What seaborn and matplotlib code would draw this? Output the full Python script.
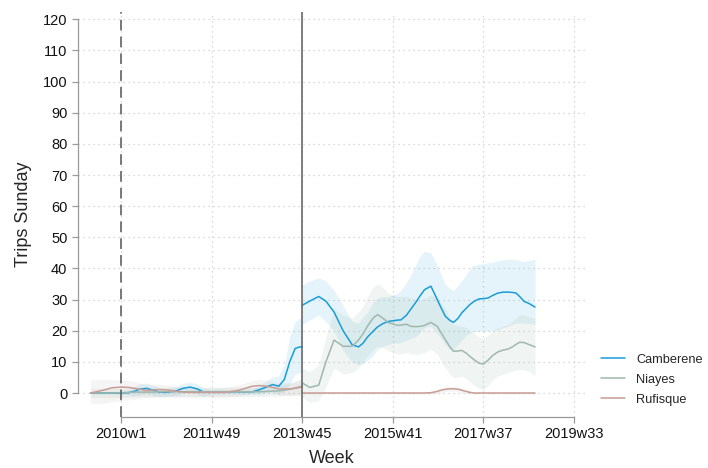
import matplotlib
matplotlib.use("Agg")
import matplotlib.pyplot as plt
import pandas as pd
import seaborn as sns
from matplotlib.ticker import FuncFormatter

# weeks are Stata weekly dates (weeks since 1960w1)
pre_weeks = [2566, 2580, 2590, 2600, 2608, 2615, 2620, 2628, 2636, 2642, 2650, 2660, 2668, 2676,
             2684, 2690, 2700, 2715, 2730, 2745, 2752, 2760, 2767, 2774, 2780, 2786, 2792, 2797, 2800]
post_weeks = [2800, 2808, 2818, 2826, 2835, 2845, 2855, 2862, 2867, 2872, 2878, 2883, 2889, 2895,
              2900, 2905, 2909, 2915, 2920, 2925, 2930, 2935, 2942, 2949, 2953, 2958, 2963, 2967,
              2972, 2976, 2981, 2985, 2990, 2995, 3000, 3005, 3010, 3016, 3022, 3027, 3032, 3036,
              3040, 3045, 3050, 3057]

# Camberene
cam_pre = [0, 0, 0, 0, 0.1, 0.6, 1.2, 1.5, 0.8, 0.3, 0.2, 0.6, 1.5, 1.9, 1.3, 0.4, 0.4, 0.4, 0.4,
           0.4, 1.0, 1.9, 2.7, 2.2, 4.3, 10.0, 14.3, 14.8, 14.8]
cam_pre_lo = [-0.3, -0.3, -0.3, -0.4, -0.6, -0.9, -0.6, -0.2, -0.8, -1.2, -1.0, -0.8, -0.1, 0.2,
              -0.3, -1.0, -0.5, -0.3, -0.3, -0.5, -0.5, 0.0, 0.3, -0.3, 0.5, 3.0, 6.0, 6.5, 6.5]
cam_pre_hi = [0.3, 0.3, 0.3, 0.5, 1.0, 2.2, 3.0, 3.2, 2.4, 1.6, 1.4, 2.0, 3.0, 3.6, 2.9, 1.6, 1.2,
              1.2, 1.2, 1.4, 2.5, 3.8, 5.2, 5.5, 9.0, 18.0, 23.0, 24.0, 24.5]
cam_post = [28.2, 29.5, 31, 29.5, 26, 20, 15.5, 14.8, 16, 18, 19.8, 21.2, 22.3, 23, 23.2, 23.4, 23.5,
            25, 27, 29, 31.2, 33.2, 34.3, 30, 27.5, 24.6, 23.3, 22.7, 24.0, 25.7, 27.2, 28.4, 29.5,
            30.2, 30.3, 30.5, 31.3, 32.1, 32.4, 32.4, 32.3, 32.1, 31, 29.4, 28.8, 27.6]
cam_post_lo = [22, 23.5, 25, 23, 20, 13.5, 10, 9, 9.5, 10.5, 12, 14, 15, 15.5, 16, 16, 16.2, 17, 17.5,
               18, 19.5, 21, 21.4, 19, 17.7, 15.5, 14, 14, 15.5, 17, 18.5, 19.3, 19.6, 19.8, 19.8,
               19.8, 20, 20.3, 21, 21.5, 22, 22.5, 22.5, 22.5, 22.3, 22]
cam_post_hi = [34.8, 36, 37, 36, 33, 28, 23, 22.5, 24.5, 26, 29, 30.5, 31, 31, 31.5, 32, 33, 35.5, 38,
               41, 44, 45.5, 45, 41, 38, 35, 33.5, 33, 34.5, 36, 38, 40, 41, 41.5, 41.5, 41.8, 42,
               42.5, 42.8, 43, 43, 42.8, 42.5, 42.2, 42.5, 43]

# Niayes
nia_pre = [0, 0, 0, 0.1, 0.2, 0.3, 0.3, 0.3, 0.3, 0.4, 0.4, 0.4, 0.4, 0.4, 0.4, 0.4, 0.4, 0.4, 0.4,
           0.4, 0.4, 0.5, 0.6, 0.7, 0.9, 1.2, 1.6, 2.0, 2.2]
nia_pre_lo = [-1.5, -1.5, -1.5, -1.4, -1.3, -1.2, -1.2, -1.2, -1.2, -1.1, -1.1, -1.1, -1.1, -1.1,
              -1.1, -1.1, -1.1, -1.1, -1.1, -1.1, -1.1, -1.1, -1.0, -1.0, -0.9, -0.8, -0.6, -0.4, -0.3]
nia_pre_hi = [1.5, 1.5, 1.5, 1.6, 1.7, 1.8, 1.8, 1.8, 1.8, 1.9, 1.9, 1.9, 1.9, 1.9, 1.9, 1.9, 1.9,
              1.9, 1.9, 1.9, 1.9, 2.1, 2.3, 2.5, 2.8, 3.2, 3.8, 4.4, 4.7]
nia_post = [3.2, 1.8, 2.5, 10, 17, 15, 15, 17, 19, 21.5, 24, 25.2, 24, 22.6, 22.2, 21.7, 21.8, 22.1,
            21.4, 21.3, 21.4, 21.7, 22.7, 21.4, 19.5, 17.1, 14.8, 13.4, 13.5, 13.7, 12.8, 11.8, 10.6,
            9.6, 9.3, 10.5, 12, 13.2, 13.8, 14.1, 14.8, 15.6, 16.3, 16.2, 15.6, 14.8]
nia_post_lo = [-1.5, -3, -2.5, 2, 8, 6, 6.5, 8, 10, 12, 14, 15, 14.5, 13.5, 13, 12.5, 12.5, 13, 12.5,
               12.5, 12.5, 13, 14, 12.5, 10.5, 8, 6, 5, 5, 5.5, 4.5, 3.5, 2.5, 1.5, 1, 2.5, 4, 5.5,
               6, 6.5, 7, 7.5, 7.5, 7.5, 7, 5.5]
nia_post_hi = [8, 7, 9, 18, 27, 25, 24, 26, 28, 31, 34, 35, 34, 32, 31.5, 31, 31, 31, 30.5, 30, 30,
               30.5, 31.5, 30.5, 29, 27, 24, 22, 21.5, 21.5, 21, 20, 19, 18, 17.5, 18.5, 20, 21,
               21.5, 22, 23, 24, 25, 25, 24.5, 24]

# Rufisque
ruf_pre = [0, 0.9, 1.7, 1.9, 1.8, 1.5, 1.2, 0.8, 1.0, 1.1, 1.0, 0.6, 0.3, 0.2, 0.2, 0.2, 0.2, 0.2,
           0.9, 2.2, 2.4, 2.2, 1.8, 1.3, 1.3, 1.3, 1.5, 1.8, 1.9]
ruf_pre_lo = [-3.5, -3.3, -2.8, -2.4, -2.2, -2.0, -1.8, -1.6, -1.4, -1.3, -1.3, -1.4, -1.5, -1.5,
              -1.5, -1.5, -1.5, -1.5, -1.0, 0.0, 0.2, 0.1, -0.2, -0.6, -0.7, -0.8, -0.8, -0.8, -0.8]
ruf_pre_hi = [4.3, 4.3, 4.3, 4.2, 4.0, 3.6, 3.2, 2.8, 2.8, 2.8, 2.6, 2.2, 1.8, 1.6, 1.6, 1.6, 1.6,
              1.8, 2.6, 4.0, 4.4, 4.2, 3.8, 3.2, 3.2, 3.3, 3.6, 4.0, 4.3]
ruf_post = [0] * 22 + [0.1, 0.5, 0.9, 1.2, 1.35, 1.35, 1.2, 0.9, 0.5, 0.2] + [0] * 14
ruf_post_lo = [-0.3] * 22 + [-0.4, -0.2, 0.2, 0.5, 0.6, 0.6, 0.5, 0.2, -0.2, -0.4] + [-0.3] * 14
ruf_post_hi = [0.3] * 22 + [0.6, 1.2, 1.6, 1.9, 2.1, 2.1, 1.9, 1.6, 1.2, 0.8] + [0.3] * 14

sites = ["Camberene", "Niayes", "Rufisque"]
colors = {"Camberene": "#1a9cd8", "Niayes": "#9fb8ad", "Rufisque": "#c89d95"}
band_colors = {"Camberene": "#1a9cd8", "Niayes": "#9fb8ad", "Rufisque": "#b8b0ae"}
band_alpha = {"Camberene": 0.11, "Niayes": 0.15, "Rufisque": 0.12}

series = {
    "Camberene": [(pre_weeks, cam_pre, cam_pre_lo, cam_pre_hi), (post_weeks, cam_post, cam_post_lo, cam_post_hi)],
    "Niayes": [(pre_weeks, nia_pre, nia_pre_lo, nia_pre_hi), (post_weeks, nia_post, nia_post_lo, nia_post_hi)],
    "Rufisque": [(pre_weeks, ruf_pre, ruf_pre_lo, ruf_pre_hi), (post_weeks, ruf_post, ruf_post_lo, ruf_post_hi)],
}

rows = []
for site in sites:
    for k, (w, v, lo, hi) in enumerate(series[site]):
        for wi, vi in zip(w, v):
            rows.append({"week": wi, "trips": vi, "site": site, "seg": f"{site}{k}"})
df = pd.DataFrame(rows)

sns.set_style("white")
plt.rcParams["font.family"] = ["Liberation Sans", "DejaVu Sans"]

fig = plt.figure(figsize=(7.08, 4.68), dpi=100)
ax = fig.add_axes([0.110, 0.109, 0.716, 0.865])

# confidence bands
for site in sites:
    for w, v, lo, hi in series[site]:
        ax.fill_between(w, lo, hi, color=band_colors[site], alpha=band_alpha[site], linewidth=0, zorder=1)

sns.lineplot(data=df, x="week", y="trips", hue="site", units="seg", estimator=None,
             palette=colors, hue_order=sites, linewidth=1.1, ax=ax, legend=False, zorder=3)

ax.set_xlim(2552, 3112)
ax.set_ylim(-7.7, 122.3)
ax.set_yticks(range(0, 121, 10))
ax.set_xticks(range(2600, 3101, 100))

def stata_week(x, pos):
    x = int(round(x))
    return f"{1960 + x // 52}w{x % 52 + 1}"

ax.xaxis.set_major_formatter(FuncFormatter(stata_week))

ax.grid(True, color="#cfcfcf", linestyle=(0, (1, 3)), linewidth=0.9)
ax.set_axisbelow(True)

ax.axvline(2600, color="#555555", linewidth=1.1, linestyle=(0, (7, 4)), zorder=4)
ax.axvline(2800, color="#6a6a6a", linewidth=1.2, zorder=4)

for s in ["top", "right"]:
    ax.spines[s].set_visible(False)
ax.spines["left"].set_bounds(0, 120)
ax.spines["bottom"].set_bounds(2600, 3100)
for s in ["left", "bottom"]:
    ax.spines[s].set_color("#9a9a9a")
    ax.spines[s].set_linewidth(0.9)
ax.tick_params(axis="both", which="major", length=4.5, width=0.9, color="#9a9a9a",
               labelsize=10.5, labelcolor="#111111", pad=3, bottom=True, left=True)

ax.set_xlabel("Week", fontsize=13, labelpad=6)
ax.set_ylabel("Trips Sunday", fontsize=13, labelpad=8)

handles = [plt.Line2D([], [], color=colors[s], linewidth=1.1) for s in sites]
fig.legend(handles, sites, loc="lower left", bbox_to_anchor=(0.845, 0.128), frameon=False,
           fontsize=9.2, handlelength=1.9, handletextpad=0.85, labelspacing=0.62,
           borderaxespad=0, borderpad=0.2)

fig.savefig("out.png", dpi=100)
